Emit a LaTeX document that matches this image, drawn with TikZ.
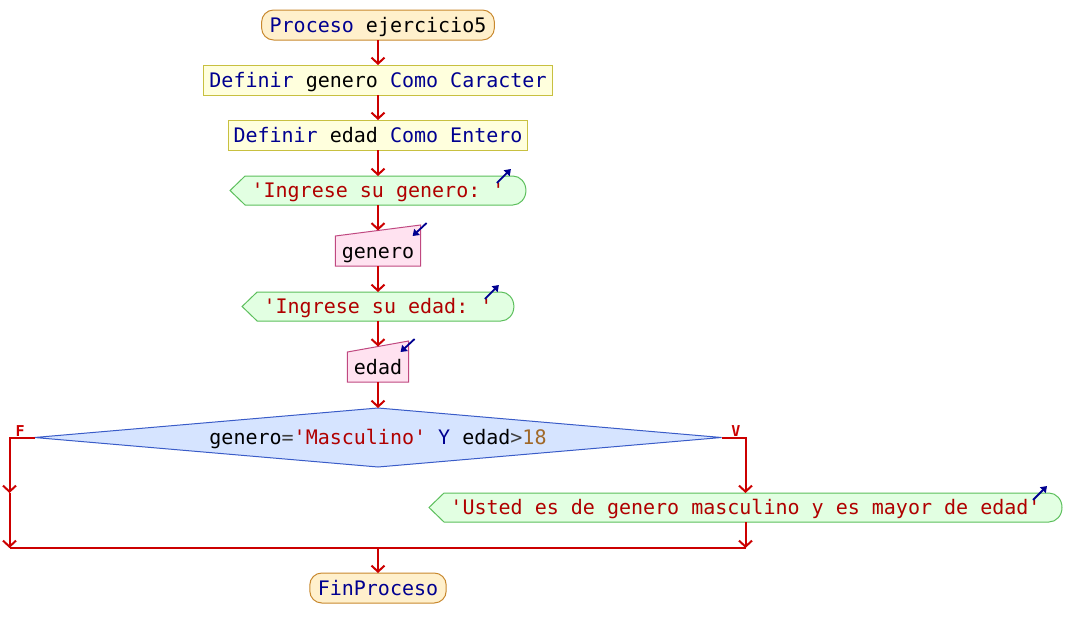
\documentclass[tikz,border=0pt]{standalone}
\usepackage{fontspec}
\setmonofont{DejaVu Sans Mono}
\usetikzlibrary{shapes,arrows.meta,positioning,backgrounds}

\definecolor{termfill}{HTML}{FFF0CC}
\definecolor{termline}{HTML}{C8882E}
\definecolor{procfill}{HTML}{FFFFDD}
\definecolor{procline}{HTML}{C8C040}
\definecolor{outfill}{HTML}{E2FFE2}
\definecolor{outdraw}{HTML}{5CBF5C}
\definecolor{infill}{HTML}{FFE2F0}
\definecolor{indraw}{HTML}{C04880}
\definecolor{decfill}{HTML}{D6E4FF}
\definecolor{decdraw}{HTML}{3A5CC8}
\definecolor{flowred}{HTML}{CC0000}
\definecolor{kwblue}{HTML}{000090}
\definecolor{strred}{HTML}{B00000}
\definecolor{numbrown}{HTML}{A06828}
\definecolor{opgray}{HTML}{404040}

\newcommand{\kwd}[1]{\textcolor{kwblue}{#1}}
\newcommand{\strg}[1]{\textcolor{strred}{#1}}
\newcommand{\numb}[1]{\textcolor{numbrown}{#1}}
\newcommand{\oper}[1]{\textcolor{opgray}{#1}}

\tikzstyle{base} = [font=\ttfamily\fontsize{20}{24}\selectfont, outer sep=0pt,
    text height=17pt, text depth=3pt, minimum height=30pt, inner ysep=0pt]
\tikzstyle{terminal} = [base, rectangle, draw=termline, fill=termfill,
    line width=1pt, rounded corners=12pt, inner xsep=8pt]
\tikzstyle{process} = [base, rectangle, draw=procline, fill=procfill,
    line width=1pt, inner xsep=5.5pt]
\tikzstyle{output} = [base, rectangle, minimum height=29pt, inner xsep=21.5pt]
\tikzstyle{readin} = [base, rectangle, inner xsep=6.5pt]
\tikzstyle{decision} = [base, diamond, draw=decdraw, fill=decfill, line width=1pt,
    shape aspect=11.6, minimum width=687pt, minimum height=59pt, inner sep=0pt]
\tikzstyle{outbox} = [draw=outdraw, fill=outfill, line width=1pt]
\tikzstyle{inbox} = [draw=indraw, fill=infill, line width=1pt]
\tikzstyle{echo} = [draw=kwblue, line width=1.8pt, -{Triangle[length=6pt,width=8pt]}]
\tikzstyle{flow} = [draw=flowred, line width=2pt, -{Straight Barb[length=6pt,width=13pt]}]
\tikzstyle{wire} = [draw=flowred, line width=2pt]
\tikzstyle{branch} = [text=flowred, font=\ttfamily\bfseries\fontsize{15}{15}\selectfont, inner sep=1pt]

% screen output: point on the left, round on the right
\newcommand{\outshape}[1]{%
  \begin{scope}[on background layer]
    \path[outbox] (#1.west) -- ([xshift=15pt]#1.north west) -- ([xshift=-13pt]#1.north east)
      arc[start angle=90, end angle=-90, x radius=13pt, y radius=14.5pt]
      -- ([xshift=15pt]#1.south west) -- cycle;
  \end{scope}
  \draw[echo] ([xshift=-29pt,yshift=-7pt]#1.north east) -- ([xshift=-15pt,yshift=7pt]#1.north east);}
% keyboard input: slanted top
\newcommand{\inshape}[1]{%
  \begin{scope}[on background layer]
    \path[inbox] (#1.south west) -- (#1.north west) -- ([yshift=11pt]#1.north east)
      -- (#1.south east) -- cycle;
  \end{scope}
  \draw[echo] ([xshift=6pt,yshift=13pt]#1.north east) -- ([xshift=-8pt]#1.north east);}

\begin{document}
\begin{tikzpicture}[x=1pt, y=-1pt]
    \useasboundingbox (0,0) rectangle (1080,637);

    \node[terminal] (start) at (378,25) {\kwd{Proceso} ejercicio5};
    \node[process, below=25pt of start] (defGenero) {\kwd{Definir} genero \kwd{Como Caracter}};
    \node[process, below=25pt of defGenero] (defEdad) {\kwd{Definir} edad \kwd{Como Entero}};
    \node[output, below=26pt of defEdad] (askGenero) {\strg{'Ingrese su genero: '}};
    \node[readin, below=31pt of askGenero] (readGenero) {genero};
    \node[output, below=26pt of readGenero] (askEdad) {\strg{'Ingrese su edad: '}};
    \node[readin, below=31pt of askEdad] (readEdad) {edad};
    \node[decision, below=26pt of readEdad] (cond)
        {genero\oper{=}\strg{'Masculino'} \kwd{Y} edad\oper{>}\numb{18}};

    \coordinate (fl) at ([xshift=-25pt]cond.west);
    \coordinate (vr) at ([xshift=24pt]cond.east);
    \coordinate (vtop) at (cond.south -| vr);

    \node[output, below=26pt of vtop] (msg)
        {\strg{'Usted es de genero masculino y es mayor de edad'}};

    \coordinate (fmid) at (fl |- msg.north);
    \coordinate (jr) at ([yshift=-26pt]msg.south);
    \coordinate (jl) at (jr -| fl);
    \coordinate (jm) at (jr -| cond.south);

    \node[terminal, below=25pt of jm] (fin) {\kwd{FinProceso}};

    \outshape{askGenero}
    \outshape{askEdad}
    \outshape{msg}
    \inshape{readGenero}
    \inshape{readEdad}

    \node[branch, anchor=south west, xshift=5pt] at (fl) {F};
    \node[branch, anchor=south east, xshift=-4pt] at (vr) {V};

    \path[flow] (start) -- (defGenero);
    \path[flow] (defGenero) -- (defEdad);
    \path[flow] (defEdad) -- (askGenero);
    \path[flow, shorten >=5.5pt] (askGenero) -- (readGenero);
    \path[flow] (readGenero) -- (askEdad);
    \path[flow, shorten >=5.5pt] (askEdad) -- (readEdad);
    \path[flow] (readEdad) -- (cond);

    \path[flow] (cond.west) -- (fl) -- (fmid);
    \path[flow] (fmid) -- (jl);
    \path[flow] (cond.east) -- (vr) -- (msg.north);
    \path[flow] (msg.south) -- (jr);
    \path[wire] (jl) -- (jr);
    \path[flow] (jm) -- (fin);
\end{tikzpicture}
\end{document}
